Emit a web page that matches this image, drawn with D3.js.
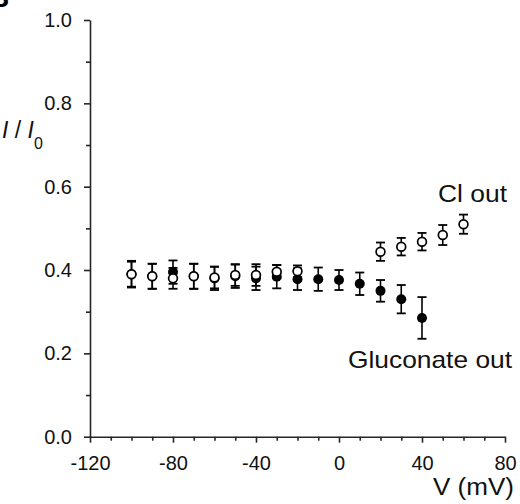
<!DOCTYPE html>
<html>
<head>
<meta charset="utf-8">
<script src="https://cdn.jsdelivr.net/npm/d3@7"></script>
<style>
  html, body { margin: 0; padding: 0; background: #fff; }
  svg { display: block; font-family: "Liberation Sans", Arial, sans-serif; }
</style>
</head>
<body>
<svg id="chart" width="520" height="504"></svg>
<script>
// ---- data ----
const glucVolt = [-100, -90, -80, -70, -60, -50, -40, -30, -20, -10, 0, 10, 20, 30, 40];
const glucMean = [0.390, 0.385, 0.395, 0.385, 0.380, 0.385, 0.380, 0.384, 0.378, 0.378, 0.376, 0.367, 0.350, 0.330, 0.285];
const glucErr  = [0.030, 0.030, 0.028, 0.030, 0.028, 0.028, 0.028, 0.028, 0.026, 0.028, 0.024, 0.027, 0.026, 0.034, 0.050];

const clVolt = [-100, -90, -80, -70, -60, -50, -40, -30, -20, 20, 30, 40, 50, 60];
const clMean = [0.390, 0.385, 0.380, 0.385, 0.382, 0.388, 0.388, 0.396, 0.397, 0.444, 0.456, 0.468, 0.484, 0.510];
const clErr  = [0.032, 0.030, 0.025, 0.030, 0.026, 0.026, 0.026, 0.016, 0.014, 0.022, 0.021, 0.021, 0.024, 0.023];

const xMajorTicks = [-120, -80, -40, 0, 40, 80];
const xMinorTicks = [-110, -100, -90, -70, -60, -50, -30, -20, -10, 10, 20, 30, 50, 60, 70];
const yMajorTicks = [0.0, 0.2, 0.4, 0.6, 0.8, 1.0];
const yMinorTicks = [0.1, 0.3, 0.5, 0.7, 0.9];

const seriesLabels = ["Cl out", "Gluconate out"];
const xTitle = "V (mV)";
const panelLetter = "B";

// ---- layout ----
const svg = d3.select("#chart");
const x = d3.scaleLinear().domain([-120, 80]).range([90, 505]);
const y = d3.scaleLinear().domain([0, 1]).range([436.7, 20]);
const axisColor = "#262626";
const fmtX = d => String(d);           // plain hyphen-minus as in the reference
const fmtY = d => d.toFixed(1);

// x axis
const gx = svg.append("g").attr("transform", `translate(0,${y(0)})`);
gx.call(d3.axisBottom(x).tickValues(xMinorTicks).tickSize(4).tickSizeOuter(0).tickFormat(""));
gx.select(".domain").remove();
const gx2 = svg.append("g").attr("transform", `translate(0,${y(0)})`);
gx2.call(d3.axisBottom(x).tickValues(xMajorTicks).tickSize(6).tickSizeOuter(0).tickPadding(13).tickFormat(fmtX));
gx2.selectAll("text").attr("font-size", 20).attr("fill", "#111").attr("font-family", "Liberation Sans, Arial, sans-serif");

// y axis
const gy = svg.append("g").attr("transform", `translate(${x(-120)},0)`);
gy.call(d3.axisLeft(y).tickValues(yMinorTicks).tickSize(4).tickSizeOuter(0).tickFormat(""));
gy.select(".domain").remove();
const gy2 = svg.append("g").attr("transform", `translate(${x(-120)},0)`);
gy2.call(d3.axisLeft(y).tickValues(yMajorTicks).tickSize(6).tickSizeOuter(0).tickPadding(12).tickFormat(fmtY));
gy2.selectAll("text").attr("font-size", 20).attr("fill", "#111").attr("font-family", "Liberation Sans, Arial, sans-serif");

svg.selectAll(".domain, .tick line").attr("stroke", axisColor).attr("stroke-width", 1.6);

// error bars + markers
function drawSeries(volts, means, errs, filled) {
  const g = svg.append("g");
  const data = volts.map((v, i) => ({v, m: means[i], e: errs[i]}));
  const cap = 4.5;
  g.selectAll("line.eb").data(data).join("line")
    .attr("x1", d => x(d.v)).attr("x2", d => x(d.v))
    .attr("y1", d => y(d.m + d.e)).attr("y2", d => y(d.m - d.e))
    .attr("stroke", "#000").attr("stroke-width", 1.6);
  g.selectAll("line.capT").data(data).join("line")
    .attr("x1", d => x(d.v) - cap).attr("x2", d => x(d.v) + cap)
    .attr("y1", d => y(d.m + d.e)).attr("y2", d => y(d.m + d.e))
    .attr("stroke", "#000").attr("stroke-width", 1.8);
  g.selectAll("line.capB").data(data).join("line")
    .attr("x1", d => x(d.v) - cap).attr("x2", d => x(d.v) + cap)
    .attr("y1", d => y(d.m - d.e)).attr("y2", d => y(d.m - d.e))
    .attr("stroke", "#000").attr("stroke-width", 1.8);
  g.selectAll("circle").data(data).join("circle")
    .attr("cx", d => x(d.v)).attr("cy", d => y(d.m))
    .attr("r", filled ? 5 : 4.4)
    .attr("fill", filled ? "#000" : "#fff")
    .attr("stroke", "#000").attr("stroke-width", filled ? 0 : 1.7);
}
drawSeries(glucVolt, glucMean, glucErr, true);
drawSeries(clVolt, clMean, clErr, false);

// labels
svg.append("text").attr("x", 438).attr("y", 202)
  .attr("font-size", 23).attr("fill", "#111")
  .attr("textLength", 69).attr("lengthAdjust", "spacingAndGlyphs").text(seriesLabels[0]);
svg.append("text").attr("x", 348).attr("y", 368)
  .attr("font-size", 24).attr("fill", "#111")
  .attr("textLength", 164).attr("lengthAdjust", "spacingAndGlyphs").text(seriesLabels[1]);
svg.append("text").attr("x", 433).attr("y", 495)
  .attr("font-size", 23).attr("fill", "#111")
  .attr("textLength", 81).attr("lengthAdjust", "spacingAndGlyphs").text(xTitle);

// y axis title I / I0
const yt = svg.append("text").attr("x", 2).attr("y", 138).attr("font-size", 23).attr("fill", "#111");
yt.append("tspan").attr("font-style", "italic").text("I");
yt.append("tspan").text(" / ");
yt.append("tspan").attr("font-style", "italic").text("I");
yt.append("tspan").attr("font-size", 16).attr("dy", 11).text("0");

// panel letter (cropped by the page edge, as in the reference)
svg.append("text").attr("x", -11).attr("y", 7).attr("font-size", 28).attr("font-weight", "bold")
  .attr("fill", "#000").text(panelLetter);
</script>
</body>
</html>
